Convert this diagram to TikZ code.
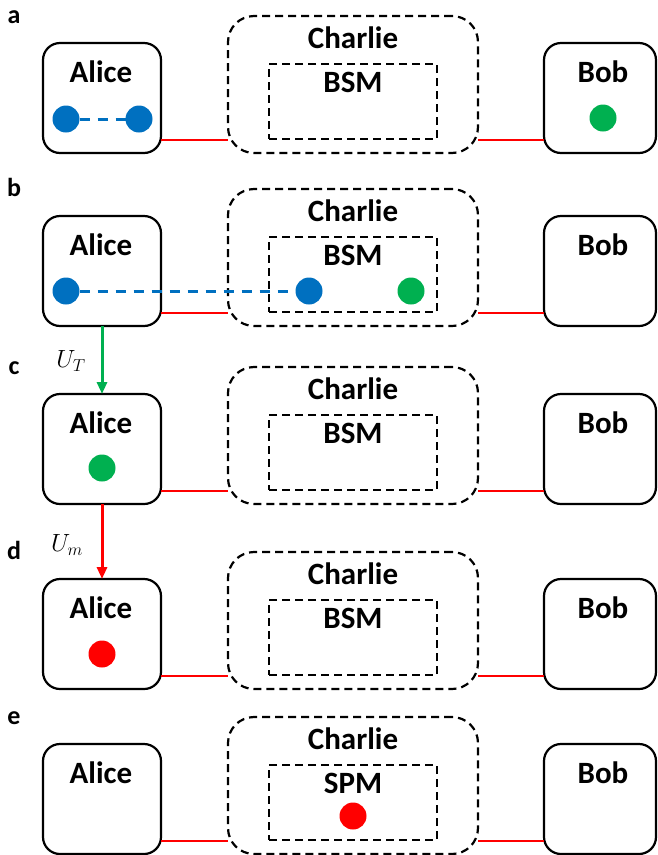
\documentclass[tikz,border=0pt]{standalone}
\usepackage{fontspec}
\setmainfont{Carlito}
\usetikzlibrary{arrows.meta}
\definecolor{qblue}{HTML}{0070C0}
\definecolor{qgreen}{HTML}{00B050}
\definecolor{qred}{HTML}{FF0000}
\tikzset{
  partybox/.style={draw, line width=2.2pt, rounded corners=17pt, minimum width=118pt, minimum height=110pt, anchor=north west, inner sep=0pt, outer sep=0pt},
  charliebox/.style={draw, line width=2.2pt, dash pattern=on 8pt off 5pt, rounded corners=26pt, minimum width=250pt, minimum height=137pt, anchor=north west, inner sep=0pt, outer sep=0pt},
  bsmbox/.style={draw, line width=2.2pt, dash pattern=on 8pt off 5pt, minimum width=168pt, minimum height=75pt, anchor=north west, inner sep=0pt, outer sep=0pt},
  namefont/.style={font=\bfseries\fontsize{31}{31}\selectfont, inner sep=0pt, anchor=base},
  letterfont/.style={font=\bfseries\fontsize{26}{26}\selectfont, inner sep=0pt, anchor=base},
  dot/.style={circle, fill=#1, minimum size=27pt, inner sep=0pt, outer sep=0pt},
  redline/.style={draw=qred, line width=2.5pt},
  bluedash/.style={draw=qblue, line width=3pt, dash pattern=on 10pt off 8pt},
  uarrow/.style={line width=3pt, -{Triangle[length=12pt,width=10pt]}},
  mathlab/.style={font=\fontsize{27}{27}\selectfont, inner sep=0pt},
}
\newcommand\qpanel[4]{%
  \node[partybox] (alice#1) at (43,#2) {};
  \node[namefont] (alicet#1) at (101,{#2+39}) {Alice};
  \node[partybox, minimum width=112pt] (bob#1) at (544,#2) {};
  \node[namefont] (bobt#1) at (603,{#2+39}) {Bob};
  \node[charliebox] (charlie#1) at (228,{#2-27}) {};
  \node[namefont] (charliet#1) at (353,{#2+5}) {Charlie};
  \node[bsmbox] (bsm#1) at (269,{#2+21}) {};
  \node[namefont] (bsmt#1) at (353,{#2+49}) {#4};
  \draw[redline] ([yshift=13pt]alice#1.south east) -- ([yshift=13pt]charlie#1.south west);
  \draw[redline] ([yshift=13pt]charlie#1.south east) -- ([yshift=13pt]bob#1.south west);
  \node[letterfont] (lab#1) at (14,{#2-20}) {#3};
}
\begin{document}
\begin{tikzpicture}[x=1pt, y=-1pt]
\useasboundingbox (0,0) rectangle (657,855);
\qpanel{a}{43}{a}{BSM}
\qpanel{b}{216}{b}{BSM}
\qpanel{c}{394}{c}{BSM}
\qpanel{d}{579}{d}{BSM}
\qpanel{e}{744}{e}{SPM}
% panel a
\node[dot=qblue] (qa1) at (66,119) {};
\node[dot=qblue] (qa2) at (139,119) {};
\draw[bluedash] (qa1) -- (qa2);
\node[dot=qgreen] (qa3) at (603,118) {};
% panel b
\node[dot=qblue] (qb1) at (66,291) {};
\node[dot=qblue] (qb2) at (309,291) {};
\node[dot=qgreen] (qb3) at (411,291) {};
\draw[bluedash] (qb1) -- (qb2);
% panel c
\node[dot=qgreen] (qc1) at (102,468) {};
% panel d
\node[dot=qred] (qd1) at (102,654) {};
% panel e
\node[dot=qred] (qe1) at (353,816) {};
% arrows
\draw[uarrow, qgreen] (aliceb.south) -- (alicec.north);
\node[mathlab] (ut) at (71,361) {$U_T$};
\draw[uarrow, qred] (alicec.south) -- (aliced.north);
\node[mathlab] (um) at (67,545) {$U_m$};
\end{tikzpicture}
\end{document}
